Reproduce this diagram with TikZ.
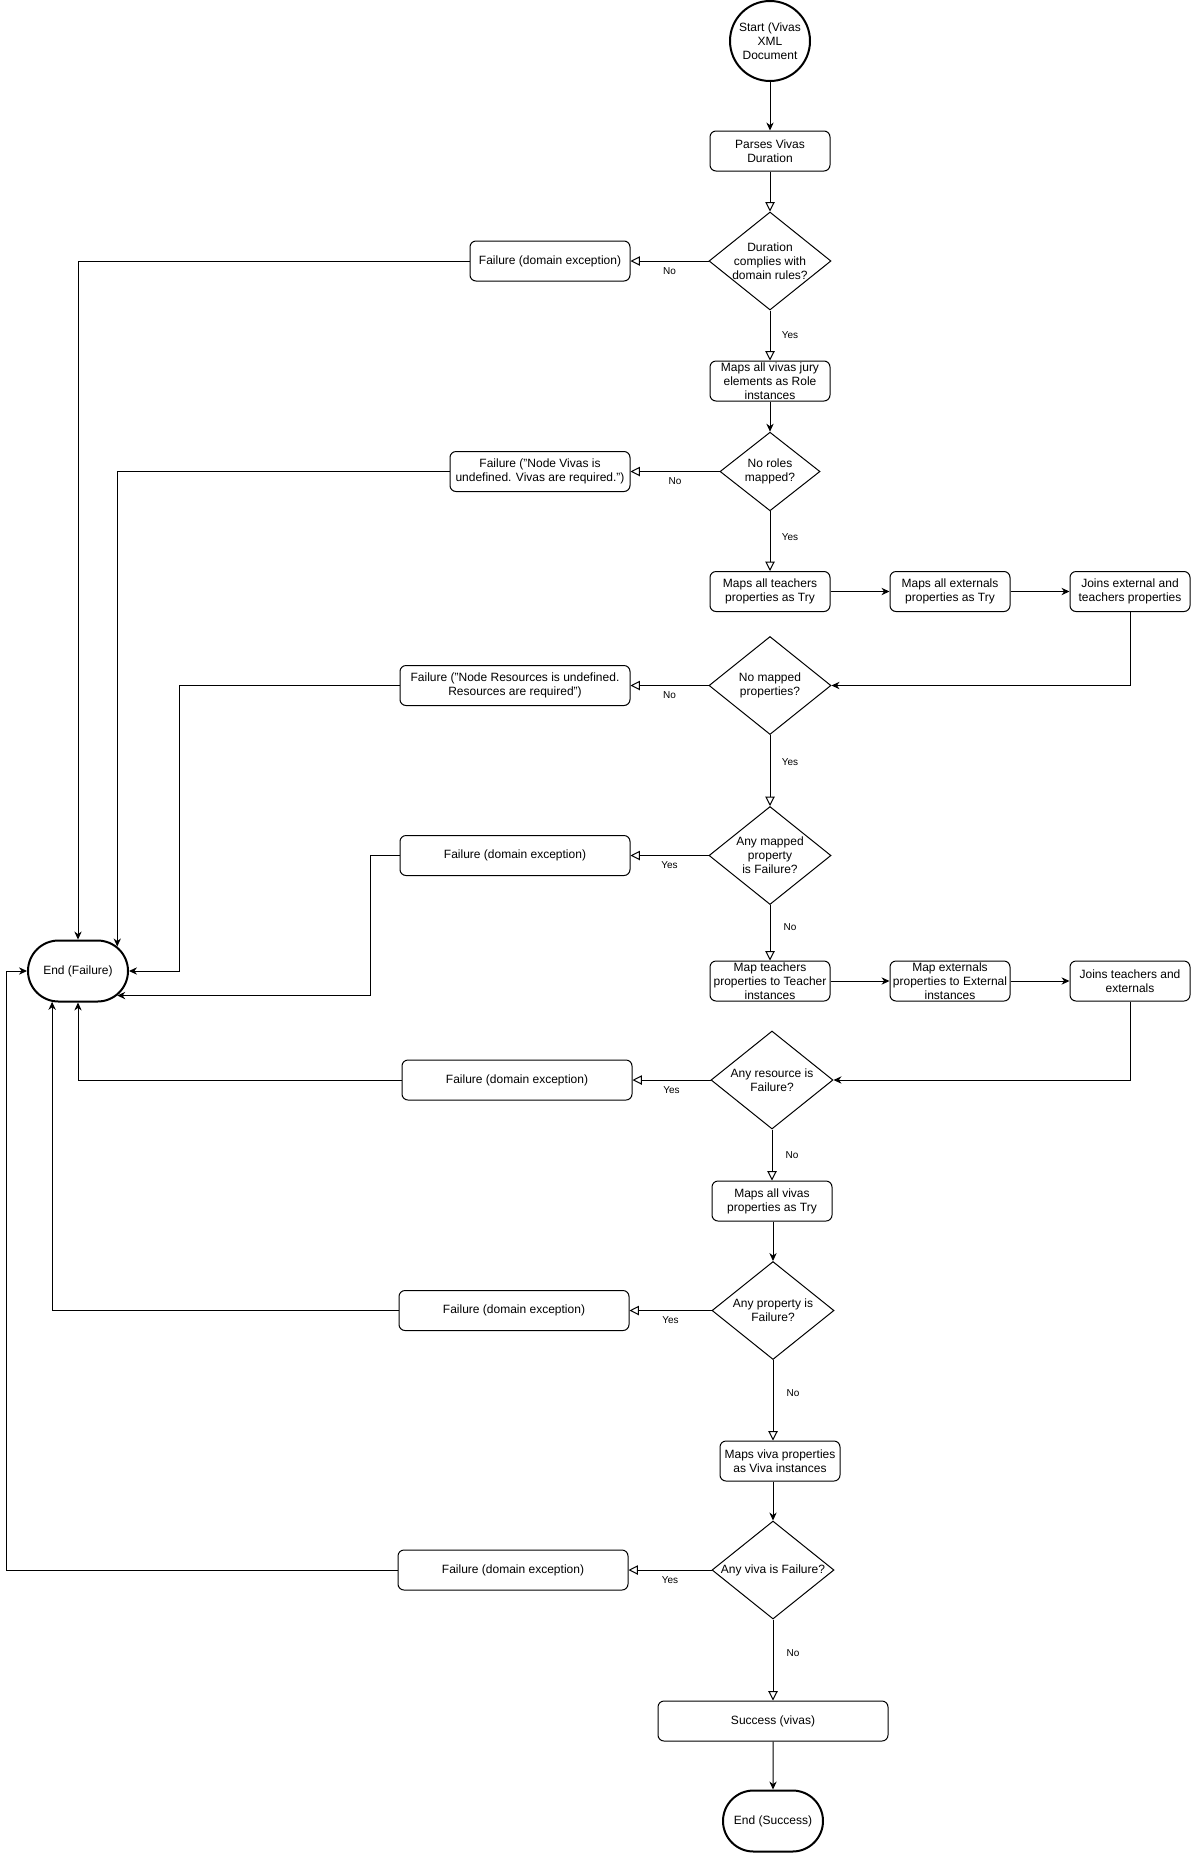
\documentclass[tikz,border=0pt]{standalone}
\usepackage{fontspec}
\setmainfont{Liberation Sans}
\usetikzlibrary{shapes.geometric,shapes.misc,arrows.meta}

\begin{document}
\begin{tikzpicture}[x=0.75pt,y=-0.75pt,
  font=\fontsize{9}{10.5}\selectfont,
  caja/.style={draw, rectangle, rounded corners=4.5pt, minimum width=90pt, minimum height=30pt, inner sep=0pt, align=center, line width=0.75pt},
  falla/.style={caja, minimum width=172.5pt},
  decision/.style={draw, diamond, aspect=1.245, minimum width=91.5pt, minimum height=73.5pt, inner sep=0pt, align=center, line width=0.75pt},
  terminal/.style={draw, rounded rectangle, minimum width=75pt, minimum height=45.75pt, inner sep=0pt, line width=1.5pt},
  flecha/.style={line width=0.75pt, -{Stealth[length=6pt,width=5.5pt]}},
  abierta/.style={line width=0.75pt, -{Triangle[open,length=7pt,width=7pt]}},
  etiq/.style={font=\fontsize{7.5}{9}\selectfont, inner sep=1pt}]
\useasboundingbox (0,0) rectangle (1191,1853);
% Inicio
\node[draw, circle, minimum size=60pt, inner sep=0pt, line width=1.5pt, align=center] (inicio) at (770,41) {Start (Vivas\\XML\\Document};
% Duracion
\node[caja] (parseo) at (770,151) {Parses Vivas\\Duration};
\node[decision] (d1) at (770,261) {Duration\\complies with\\domain rules?};
\node[falla, minimum width=120pt] (falla1) at (550,261) {Failure (domain exception)};
% Jurado
\node[caja] (jurado) at (770,381) {Maps all vivas jury\\elements as Role\\instances};
\node[decision, aspect=1.27, minimum width=75pt, minimum height=59pt] (d2) at (770,471.5) {No roles\\mapped?};
\node[falla, minimum width=135pt] (falla2) at (540,471.5) {Failure ("Node Vivas is\\undefined. Vivas are required.")};
% Propiedades
\node[caja] (docentes) at (770,591.5) {Maps all teachers\\properties as Try};
\node[caja] (externos) at (950,591.5) {Maps all externals\\properties as Try};
\node[caja] (union1) at (1130,591.5) {Joins external and\\teachers properties};
\node[decision] (d3) at (770,685.5) {No mapped\\properties?};
\node[falla] (falla3) at (515,685.5) {Failure ("Node Resources is undefined.\\Resources are required")};
\node[decision] (d4) at (770,855.5) {Any mapped\\property\\is Failure?};
\node[falla] (falla4) at (515,855.5) {Failure (domain exception)};
% Recursos
\node[caja] (mapdoc) at (770,981) {Map teachers\\properties to Teacher\\instances};
\node[caja] (mapext) at (950,981) {Map externals\\properties to External\\instances};
\node[caja] (union2) at (1130,981) {Joins teachers and\\externals};
\node[decision] (d5) at (772,1080) {Any resource is\\Failure?};
\node[falla] (falla5) at (517,1080) {Failure (domain exception)};
% Vivas
\node[caja] (vivas) at (772,1201) {Maps all vivas\\properties as Try};
\node[decision] (d6) at (773,1310.5) {Any property is\\Failure?};
\node[falla] (falla6) at (514,1310.5) {Failure (domain exception)};
\node[caja] (viva) at (780,1461) {Maps viva properties\\as Viva instances};
\node[decision] (d7) at (773,1570) {Any viva is Failure?};
\node[falla] (falla7) at (513,1570) {Failure (domain exception)};
% Finales
\node[falla] (exito) at (773,1721) {Success (vivas)};
\node[terminal] (finE) at (773,1821) {End (Success)};
\node[terminal] (finF) at (78,971) {End (Failure)};
% Flujo principal
\draw[flecha] (inicio) -- (parseo);
\draw[abierta] (parseo) -- (d1);
\draw[abierta] (d1) -- node[etiq, yshift=-7.5pt] {No} (falla1);
\draw[abierta] (d1) -- node[etiq, xshift=15pt] {Yes} (jurado);
\draw[flecha] (jurado) -- (d2);
\draw[abierta] (d2) -- node[etiq, yshift=-7.5pt] {No} (falla2);
\draw[abierta] (d2) -- node[etiq, xshift=15pt, yshift=3pt] {Yes} (docentes);
\draw[flecha] (docentes) -- (externos);
\draw[flecha] (externos) -- (union1);
\draw[flecha] (union1.south) |- (d3.east);
\draw[abierta] (d3) -- node[etiq, yshift=-7.5pt] {No} (falla3);
\draw[abierta] (d3) -- node[etiq, xshift=15pt, yshift=6pt] {Yes} (d4);
\draw[abierta] (d4) -- node[etiq, yshift=-7.5pt] {Yes} (falla4);
\draw[abierta] (d4) -- node[etiq, xshift=15pt, yshift=4pt] {No} (mapdoc);
\draw[flecha] (mapdoc) -- (mapext);
\draw[flecha] (mapext) -- (union2);
\draw[flecha] (union2.south) |- (d5.east);
\draw[abierta] (d5) -- node[etiq, yshift=-7.5pt] {Yes} (falla5);
\draw[abierta] (d5) -- node[etiq, xshift=15pt] {No} (vivas);
\draw[flecha] (d6.north |- vivas.south) -- (d6.north);
\draw[abierta] (d6) -- node[etiq, yshift=-7.5pt] {Yes} (falla6);
\draw[abierta] (d6.south) -- node[etiq, xshift=15pt, yshift=5pt] {No} (d6.south |- viva.north);
\draw[flecha] (d7.north |- viva.south) -- (d7.north);
\draw[abierta] (d7) -- node[etiq, yshift=-7.5pt] {Yes} (falla7);
\draw[abierta] (d7) -- node[etiq, xshift=15pt, yshift=5pt] {No} (exito);
\draw[flecha] (exito) -- (finE);
% Fallos hacia el final
\draw[flecha] (falla1.west) -| (finF.north);
\draw[flecha] (falla2.west) -| (finF.32);
\draw[flecha] (falla3.west) -- ++(-220,0) |- (finF.east);
\draw[flecha] (falla4.west) -- ++(-29.5,0) |- (finF.-32);
\draw[flecha] (falla5.west) -| (finF.south);
\draw[flecha] (falla6.west) -| (finF.-130);
\draw[flecha] (falla7.west) -- ++(-391,0) |- (finF.west);
\end{tikzpicture}
\end{document}
